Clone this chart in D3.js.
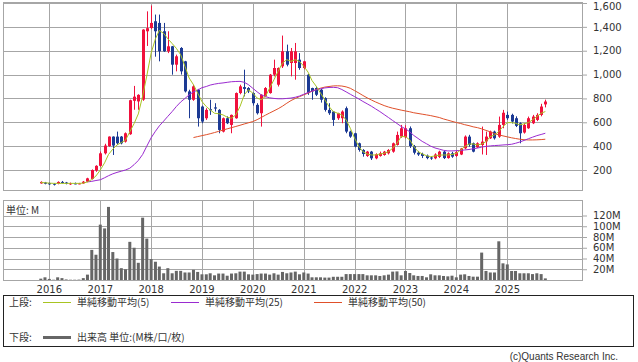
<!DOCTYPE html>
<html>
<head>
<meta charset="utf-8">
<script src="https://cdn.jsdelivr.net/npm/d3@7"></script>
<style>
  body { margin: 0; background: #fff; }
  svg text { font-family: "DejaVu Sans", sans-serif; fill: #333; }
  .jp { font-family: "Noto Sans CJK JP", sans-serif; }
</style>
</head>
<body>
<script>
// monthly candles, Nov 2015 - Oct 2025
var months = [
  "2015-11","2015-12",
  "2016-01","2016-02","2016-03","2016-04","2016-05","2016-06","2016-07","2016-08","2016-09","2016-10","2016-11","2016-12",
  "2017-01","2017-02","2017-03","2017-04","2017-05","2017-06","2017-07","2017-08","2017-09","2017-10","2017-11","2017-12",
  "2018-01","2018-02","2018-03","2018-04","2018-05","2018-06","2018-07","2018-08","2018-09","2018-10","2018-11","2018-12",
  "2019-01","2019-02","2019-03","2019-04","2019-05","2019-06","2019-07","2019-08","2019-09","2019-10","2019-11","2019-12",
  "2020-01","2020-02","2020-03","2020-04","2020-05","2020-06","2020-07","2020-08","2020-09","2020-10","2020-11","2020-12",
  "2021-01","2021-02","2021-03","2021-04","2021-05","2021-06","2021-07","2021-08","2021-09","2021-10","2021-11","2021-12",
  "2022-01","2022-02","2022-03","2022-04","2022-05","2022-06","2022-07","2022-08","2022-09","2022-10","2022-11","2022-12",
  "2023-01","2023-02","2023-03","2023-04","2023-05","2023-06","2023-07","2023-08","2023-09","2023-10","2023-11","2023-12",
  "2024-01","2024-02","2024-03","2024-04","2024-05","2024-06","2024-07","2024-08","2024-09","2024-10","2024-11","2024-12",
  "2025-01","2025-02","2025-03","2025-04","2025-05","2025-06","2025-07","2025-08","2025-09","2025-10"
];

var openP = [88,95,90,85,85,100,95,80,88,85,88,102,125,195,235,340,400,480,480,480,
  438,500,780,775,790,1363,1390,1447,1433,1363,1195,1237,1083,1223,1111,859,789,873,732,634,
  710,725,704,522,634,578,634,845,895,887,845,746,676,817,845,999,915,1069,1195,1097,
  1097,1125,1055,999,887,887,873,803,704,690,634,634,718,522,508,424,368,318,354,298,
  318,326,340,354,410,480,475,550,400,345,335,320,305,298,310,354,300,340,318,330,
  382,480,424,390,410,440,466,522,480,578,662,662,634,592,514,550,592,620,662,750];
var highP = [105,100,95,90,105,108,100,95,95,92,108,135,205,240,355,420,482,482,522,485,
  515,790,905,835,1380,1530,1579,1503,1503,1433,1363,1240,1167,1230,1115,873,915,880,740,718,
  789,760,710,640,650,665,850,915,1041,895,850,760,835,895,1005,1125,1060,1327,1251,1223,
  1265,1180,1115,1005,890,900,880,810,760,695,680,700,732,530,512,430,375,360,360,340,
  354,360,375,430,522,578,575,565,410,360,345,330,312,340,362,362,348,352,362,385,
  490,495,430,432,564,522,530,530,648,704,690,672,650,600,592,648,662,676,755,790];
var lowP = [85,80,75,70,80,88,80,75,80,80,85,98,120,185,228,330,395,326,410,415,
  430,495,705,705,780,1240,1380,1150,1111,1190,1180,999,1027,1000,850,634,780,564,592,620,
  662,690,508,515,585,508,630,835,817,845,740,665,564,810,840,985,900,1055,1069,985,
  957,1040,1045,830,789,820,765,690,662,570,620,592,508,470,390,354,312,310,284,290,
  312,320,330,345,405,470,465,385,330,318,300,290,285,290,300,292,295,302,310,325,
  375,395,348,385,330,326,460,455,470,550,620,590,560,424,505,545,585,610,650,725];
var closeP = [100,85,80,80,100,92,85,88,85,88,102,130,200,235,340,405,480,405,424,424,
  508,785,815,830,1377,1389,1433,1363,1195,1195,1237,1083,1153,1027,859,789,901,634,606,704,
  700,715,536,634,592,662,845,901,880,859,760,676,831,887,999,1055,1055,1195,1083,1195,
  1195,1055,1111,845,859,831,789,704,676,620,676,690,522,480,396,368,334,354,298,332,
  340,354,368,424,494,550,550,400,345,330,318,300,296,330,354,300,340,312,350,380,
  480,410,354,424,438,480,522,466,578,680,634,606,570,508,578,634,648,662,732,774];

// volume, millions of shares
var volume = [2.5,5,2,0.5,5,3.5,1,0.5,0.5,0.7,3.5,10,56,47,103,96,136,52,40,22,
  20,71,60,32,116,77,39,34,25,12.5,22,12.5,17,17,14,14,19,15,10.6,10.6,
  12.5,8.7,12,12,8,12,12.5,15.6,15.6,10.6,10,11,12,12,10,12.5,10,15,12.5,14,
  15.6,10.6,14,12,5,5,5,4.5,4.5,6,6,6,11,11,11,11,11,8.7,8.7,8.7,
  7.5,8.7,10,15.6,16,8.7,16.8,13,8.7,7.5,7.5,5,10.6,8.7,8.7,7.5,6.8,8,5,10,
  10.6,7.5,6.2,6.2,51,16.8,14,14,72,31,29,16.8,16.8,12.5,12.5,12.5,11,12.5,11,3];

// moving averages as drawn
var ma5 = [95,93,90,88,88,88,88,88,88,88,90,100,120,150,200,260,330,375,410,430,
  450,520,590,670,820,990,1180,1300,1370,1345,1300,1260,1220,1167,1069,971,915,845,774,732,
  704,676,672,662,643,634,662,732,831,873,845,803,789,817,887,957,1027,1097,1125,1111,
  1125,1110,1070,1020,950,901,845,789,732,690,676,662,620,550,466,396,354,334,326,326,
  334,340,354,382,424,480,480,452,400,355,335,320,312,318,325,326,326,330,340,368,
  396,418,418,410,418,438,480,494,522,564,597,597,592,578,587,597,620,648,676,690];
var ma25 = [null,null,null,null,null,null,null,null,null,null,null,100,105,112,118,135,152,168,180,190,
  200,215,245,280,330,400,470,525,570,610,650,690,732,770,800,830,855,870,890,900,
  912,920,926,930,935,940,942,943,935,915,885,855,830,815,805,800,797,797,800,803,
  810,820,835,850,862,872,880,888,892,893,890,875,855,835,815,795,775,755,735,712,
  690,665,640,615,590,565,545,520,490,465,440,420,400,385,375,365,360,360,362,364,
  368,372,378,384,392,398,402,405,407,410,412,416,424,435,448,462,475,488,498,508];
var ma50 = [null,null,null,null,null,null,null,null,null,null,null,null,null,null,null,null,null,null,null,null,
  null,null,null,null,null,null,null,null,null,null,null,null,null,null,null,null,472,480,488,496,
  504,514,524,535,545,555,565,575,586,596,606,622,640,660,678,696,714,735,760,782,
  800,815,830,845,860,875,886,895,900,905,906,904,897,885,865,845,825,805,787,770,
  755,740,728,718,710,702,695,688,680,674,668,662,656,648,640,628,618,608,598,590,
  580,572,562,555,545,532,520,505,495,486,478,470,464,458,454,452,452,453,455,458];

var priceTicks = [200, 400, 600, 800, 1000, 1200, 1400, 1600];
var volTicks = [20, 40, 60, 80, 100, 120];
var years = [2016, 2017, 2018, 2019, 2020, 2021, 2022, 2023, 2024, 2025];

var width = 638, height = 362;
var plotLeft = 3, plotRight = 582;
var gridColor = "#a6a6a6";
var upColor = "#f0103c", downColor = "#1c3a94";
var ma5Color = "#a8c422", ma25Color = "#9a2bd0", ma50Color = "#e0502a";

var parseMonth = d3.timeParse("%Y-%m");
var data = months.map(function(m, i) {
  return { date: parseMonth(m), o: openP[i], h: highP[i], l: lowP[i], c: closeP[i],
           v: volume[i], ma5: ma5[i], ma25: ma25[i], ma50: ma50[i] };
});

var svg = d3.select("body").append("svg")
  .attr("width", width)
  .attr("height", height);

var xScale = d3.scaleTime()
  .domain([new Date(2016, 0, 1), new Date(2025, 0, 1)])
  .range([49.3, 507.3]);

var yScale = d3.scaleLinear().domain([32.4, 1600]).range([190, 3]);
var vScale = d3.scaleLinear().domain([0, 147]).range([280, 201]);

// ---- price panel grid
var gTop = svg.append("g");
gTop.selectAll(".hgrid").data(priceTicks).enter().append("line")
  .attr("x1", plotLeft).attr("x2", plotRight)
  .attr("y1", function(d) { return Math.round(yScale(d)) + 0.5; })
  .attr("y2", function(d) { return Math.round(yScale(d)) + 0.5; })
  .attr("stroke", gridColor);
gTop.selectAll(".vgrid").data(years).enter().append("line")
  .attr("x1", function(d) { return Math.round(xScale(new Date(d, 0, 1))) + 0.5; })
  .attr("x2", function(d) { return Math.round(xScale(new Date(d, 0, 1))) + 0.5; })
  .attr("y1", 3).attr("y2", 190)
  .attr("stroke", gridColor);
gTop.append("rect")
  .attr("x", plotLeft + 0.5).attr("y", 2.5)
  .attr("width", plotRight - plotLeft).attr("height", 188)
  .attr("fill", "none").attr("stroke", gridColor);

// ---- volume panel grid
var gVol = svg.append("g");
gVol.selectAll(".hgrid").data(volTicks).enter().append("line")
  .attr("x1", plotLeft).attr("x2", plotRight)
  .attr("y1", function(d) { return Math.round(vScale(d)) + 0.5; })
  .attr("y2", function(d) { return Math.round(vScale(d)) + 0.5; })
  .attr("stroke", gridColor);
gVol.selectAll(".vgrid").data(years).enter().append("line")
  .attr("x1", function(d) { return Math.round(xScale(new Date(d, 0, 1))) + 0.5; })
  .attr("x2", function(d) { return Math.round(xScale(new Date(d, 0, 1))) + 0.5; })
  .attr("y1", 201).attr("y2", 280)
  .attr("stroke", gridColor);
gVol.append("rect")
  .attr("x", plotLeft + 0.5).attr("y", 200.5)
  .attr("width", plotRight - plotLeft).attr("height", 80)
  .attr("fill", "none").attr("stroke", gridColor);

// ---- volume bars
gVol.selectAll(".vbar").data(data).enter().append("rect")
  .attr("x", function(d) { return xScale(d.date) - 1.5; })
  .attr("width", 3)
  .attr("y", function(d) { return vScale(d.v); })
  .attr("height", function(d) { return 280 - vScale(d.v); })
  .attr("fill", "#666");

gVol.append("text")
  .attr("class", "jp")
  .attr("x", 6).attr("y", 214)
  .style("font-size", "10px")
  .text("単位: M");

// ---- candles
var candles = gTop.selectAll(".candle").data(data).enter().append("g");
candles.append("line")
  .attr("x1", function(d) { return Math.round(xScale(d.date)) + 0.5; })
  .attr("x2", function(d) { return Math.round(xScale(d.date)) + 0.5; })
  .attr("y1", function(d) { return yScale(d.h); })
  .attr("y2", function(d) { return yScale(d.l); })
  .attr("stroke", function(d) { return d.c >= d.o ? upColor : downColor; });
candles.append("rect")
  .attr("x", function(d) { return Math.round(xScale(d.date)) - 1; })
  .attr("width", 3)
  .attr("y", function(d) { return yScale(Math.max(d.o, d.c)); })
  .attr("height", function(d) { return Math.max(1, Math.abs(yScale(d.o) - yScale(d.c))); })
  .attr("fill", function(d) { return d.c >= d.o ? upColor : downColor; });

// ---- moving averages
function maLine(key) {
  return d3.line()
    .defined(function(d) { return d[key] != null; })
    .x(function(d) { return xScale(d.date); })
    .y(function(d) { return yScale(d[key]); });
}
gTop.append("path").datum(data).attr("d", maLine("ma50"))
  .attr("fill", "none").attr("stroke", ma50Color).attr("stroke-width", 1);
gTop.append("path").datum(data).attr("d", maLine("ma25"))
  .attr("fill", "none").attr("stroke", ma25Color).attr("stroke-width", 1);
gTop.append("path").datum(data).attr("d", maLine("ma5"))
  .attr("fill", "none").attr("stroke", ma5Color).attr("stroke-width", 1);

// ---- axes
var yAxis = svg.append("g")
  .attr("transform", "translate(" + plotRight + ",0)")
  .call(d3.axisRight(yScale).tickValues(priceTicks).tickSize(5).tickPadding(6)
    .tickFormat(d3.format(",")));
var vAxis = svg.append("g")
  .attr("transform", "translate(" + plotRight + ",0)")
  .call(d3.axisRight(vScale).tickValues(volTicks).tickSize(5).tickPadding(6)
    .tickFormat(function(d) { return d + "M"; }));
[yAxis, vAxis].forEach(function(ax) {
  ax.select(".domain").remove();
  ax.selectAll("line").attr("stroke", gridColor);
  ax.selectAll("text").style("font-size", "10px").style("font-family", "DejaVu Sans").attr("fill", "#333");
});
// keep the top label inside the picture
yAxis.selectAll(".tick text").filter(function(d) { return d === 1600; }).attr("dy", "0.6em");

svg.append("g").selectAll("text").data(years).enter().append("text")
  .attr("x", function(d) { return xScale(new Date(d, 0, 1)); })
  .attr("y", 293)
  .attr("text-anchor", "middle")
  .style("font-size", "10px")
  .text(function(d) { return d; });

// ---- legend
var leg = svg.append("g");
leg.append("rect")
  .attr("x", 3.5).attr("y", 295.5).attr("width", 630).attr("height", 51)
  .attr("fill", "none").attr("stroke", "#222");
var legItems = [
  { x: 43, label: "単純移動平均(5)", color: ma5Color },
  { x: 171, label: "単純移動平均(25)", color: ma25Color },
  { x: 314, label: "単純移動平均(50)", color: ma50Color }
];
leg.append("text").attr("class", "jp").attr("x", 9).attr("y", 306)
  .style("font-size", "10px").text("上段:");
leg.selectAll(".item").data(legItems).enter().append("line")
  .attr("x1", function(d) { return d.x; })
  .attr("x2", function(d) { return d.x + 28; })
  .attr("y1", 302.5).attr("y2", 302.5)
  .attr("stroke", function(d) { return d.color; });
leg.selectAll(".itemt").data(legItems).enter().append("text")
  .attr("class", "jp")
  .attr("x", function(d) { return d.x + 34; })
  .attr("y", 306)
  .style("font-size", "10px")
  .text(function(d) { return d.label; });
leg.append("text").attr("class", "jp").attr("x", 9).attr("y", 341)
  .style("font-size", "10px").text("下段:");
leg.append("line")
  .attr("x1", 43).attr("x2", 71).attr("y1", 337.5).attr("y2", 337.5)
  .attr("stroke", "#666").attr("stroke-width", 3);
leg.append("text").attr("class", "jp").attr("x", 77).attr("y", 341)
  .style("font-size", "10px").text("出来高 単位:(M株/口/枚)");

svg.append("text")
  .attr("x", 618).attr("y", 360)
  .attr("text-anchor", "end")
  .style("font-size", "10px")
  .style("font-family", "'Liberation Sans Narrow', 'Liberation Sans', sans-serif")
  .text("(c)Quants Research Inc.");
</script>
</body>
</html>
